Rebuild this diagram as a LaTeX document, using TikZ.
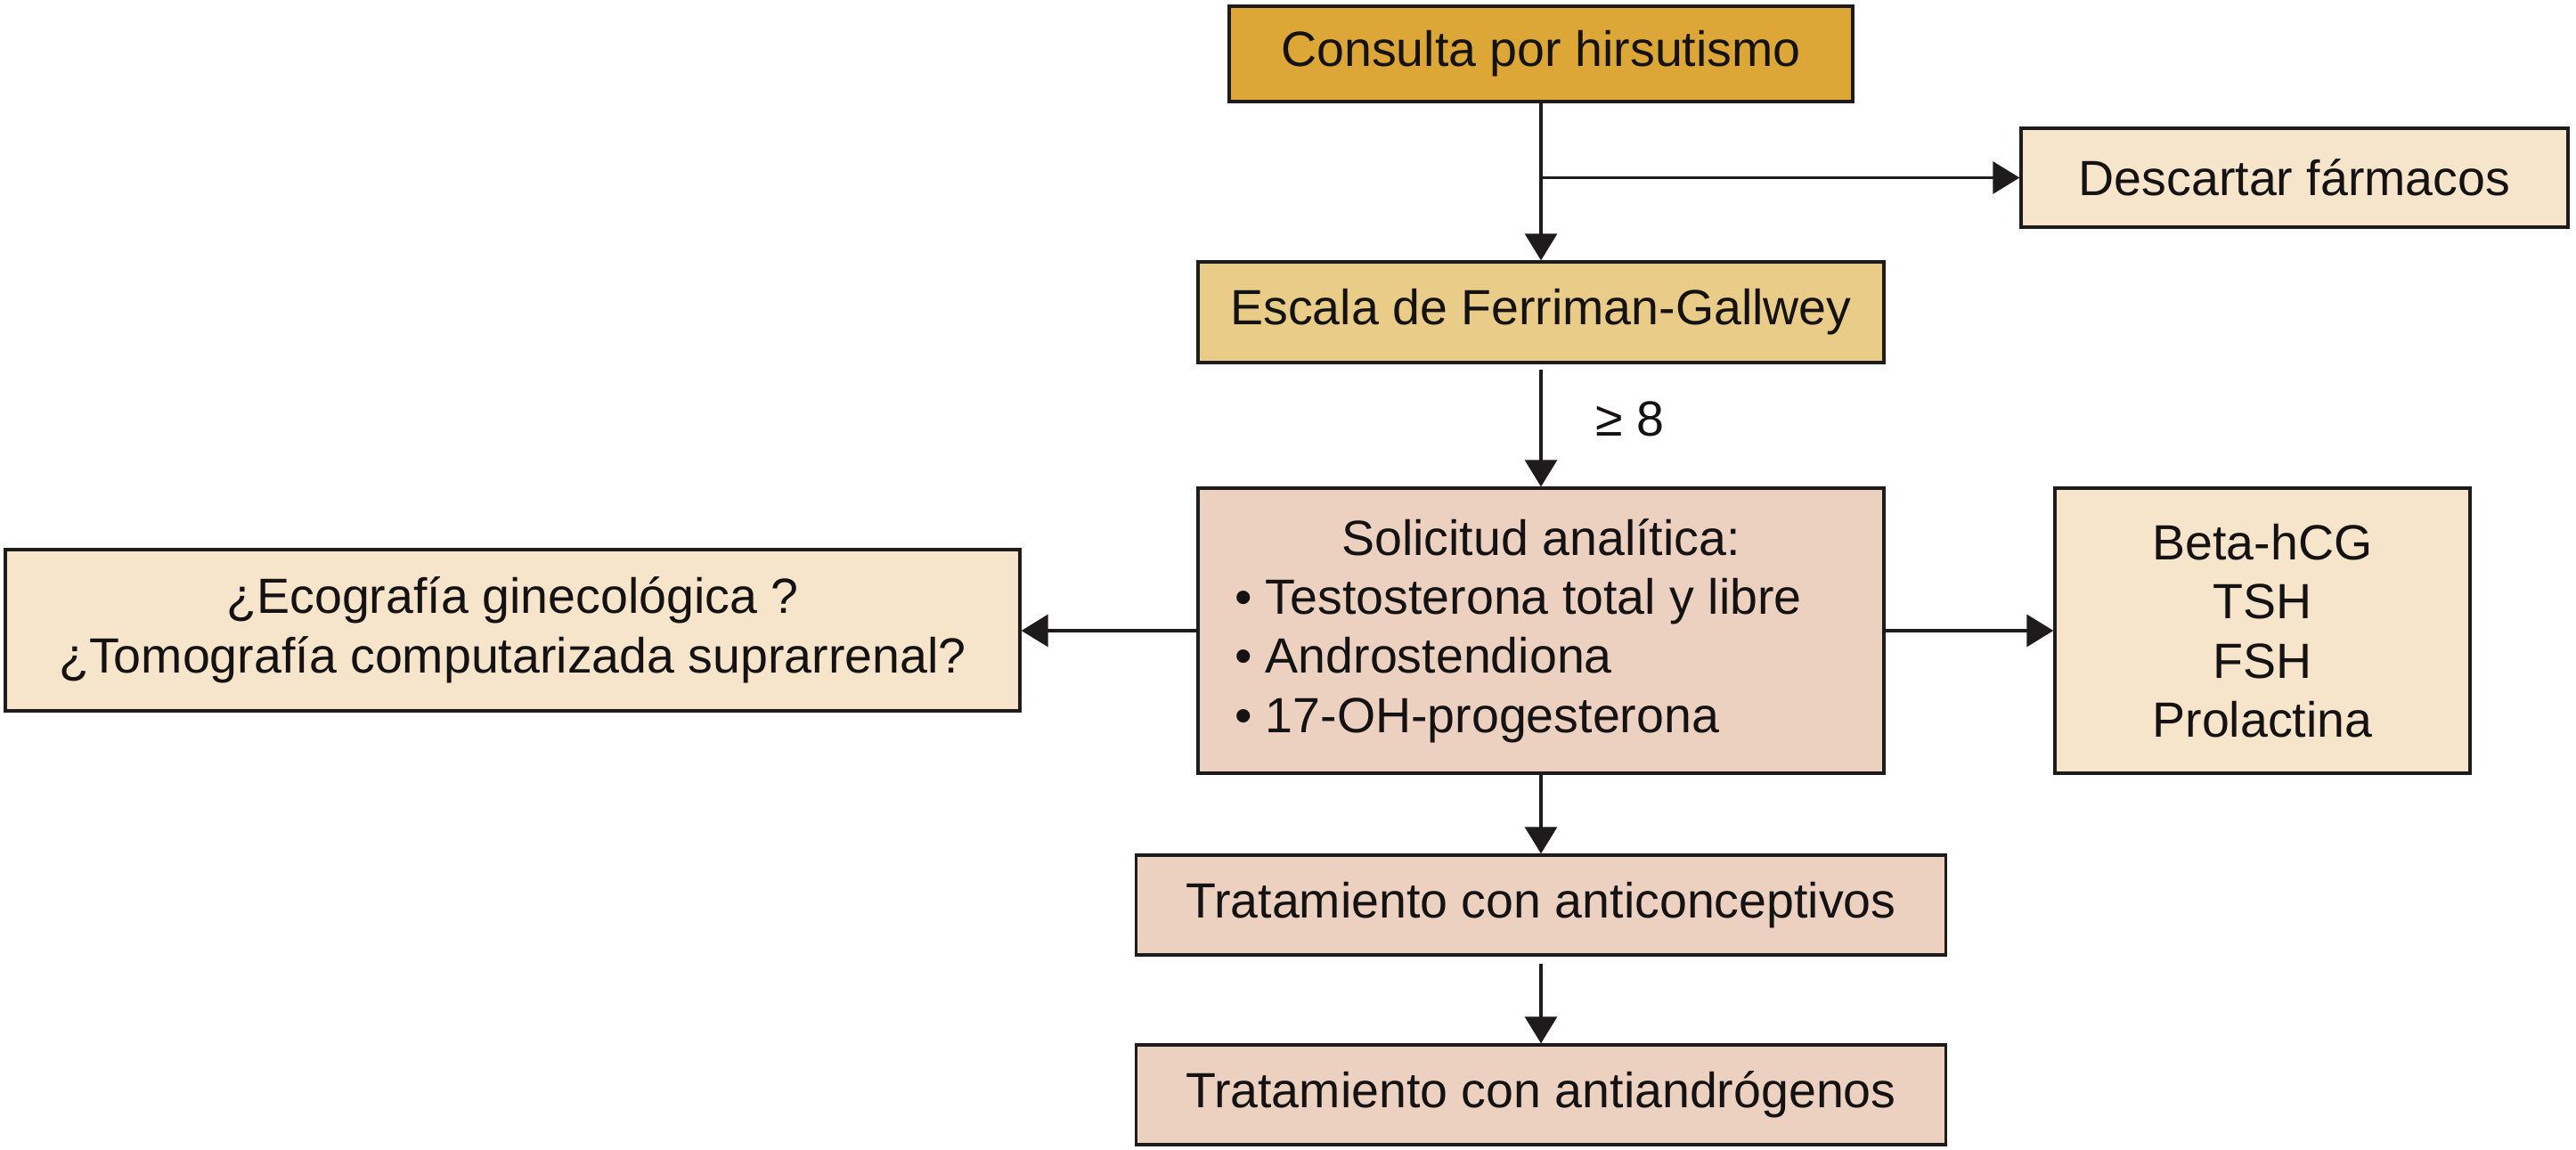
\documentclass[tikz,border=0pt]{standalone}
\usepackage{fontspec}
\setmainfont{Liberation Sans}
\usetikzlibrary{arrows.meta}
\definecolor{cgold}{RGB}{221,167,56}
\definecolor{clgold}{RGB}{233,204,135}
\definecolor{ccream}{RGB}{246,229,203}
\definecolor{cpink}{RGB}{236,209,192}
\definecolor{cline}{RGB}{30,27,28}
\definecolor{ctext}{RGB}{20,18,18}
\begin{document}
\begin{tikzpicture}[
  box/.style={draw=cline, line width=0.95pt, inner sep=0pt, align=center,
    font=\fontsize{15.8pt}{18.9pt}\selectfont, text=ctext},
  conn/.style={draw=cline, line width=0.9pt},
  arr/.style={conn, -{Triangle[length=0.30cm,width=0.36cm]}},
  lbl/.style={font=\fontsize{15.8pt}{18.9pt}\selectfont, text=ctext, inner sep=0pt}
]
\fill[white] (0,0) rectangle (28.92,-12.91);
\useasboundingbox (0,0) rectangle (28.92,-12.91);

\node[box, fill=cgold, minimum width=7.00cm, minimum height=1.07cm] (cons) at (17.30,-0.605) {Consulta por hirsutismo};
\node[box, fill=ccream, minimum width=6.14cm, minimum height=1.11cm] (desc) at (25.76,-1.995) {Descartar fármacos};
\node[box, fill=clgold, minimum width=7.70cm, minimum height=1.13cm] (esc) at (17.30,-3.505) {Escala de Ferriman-Gallwey};
\node[box, fill=cpink, minimum width=7.70cm, minimum height=3.20cm, text width=6.88cm, align=left] (sol) at (17.30,-7.08)
  {\spaceskip=0pt \xspaceskip=0pt {\centering Solicitud analítica:\par}\raggedright •\ Testosterona total y libre\\ •\ Androstendiona\\ •\ 17-OH-progesterona};
\node[box, fill=ccream, minimum width=11.39cm, minimum height=1.81cm] (left) at (5.755,-7.075)
  {¿Ecografía ginecológica ?\\ ¿Tomografía computarizada suprarrenal?};
\node[box, fill=ccream, minimum width=4.66cm, minimum height=3.20cm] (right) at (25.40,-7.08)
  {Beta-hCG\\ TSH\\ FSH\\ Prolactina};
\node[box, fill=cpink, minimum width=9.09cm, minimum height=1.12cm] (t1) at (17.30,-10.16) {Tratamiento con anticonceptivos};
\node[box, fill=cpink, minimum width=9.09cm, minimum height=1.12cm] (t2) at (17.30,-12.29) {Tratamiento con antiandrógenos};

\draw[arr] (cons.south) -- (esc.north);
\coordinate (br) at (cons.south |- desc.west);
\draw[arr] (br) -- (desc.west);
\draw[arr, shorten <=0.06cm] (esc.south) -- (sol.north);
\node[lbl, anchor=base west] (ge) at (17.91,-4.90) {≥ 8};
\draw[arr] (sol.west) -- (sol.west -| left.east);
\draw[arr] (sol.east) -- (sol.east -| right.west);
\draw[arr] (sol.south) -- (sol.south |- t1.north);
\draw[arr, shorten <=0.08cm] (t1.south) -- (t1.south |- t2.north);
\end{tikzpicture}
\end{document}
